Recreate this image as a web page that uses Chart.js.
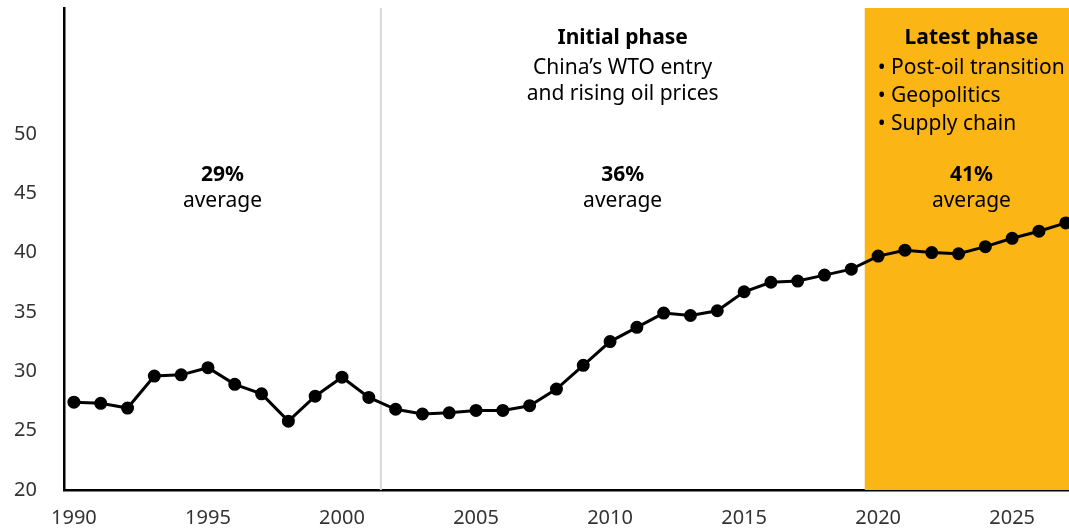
<!DOCTYPE html>
<html>
<head>
<meta charset="utf-8">
<script src="https://cdn.jsdelivr.net/npm/chart.js@4/dist/chart.umd.min.js"></script>
<style>
  html, body { margin: 0; padding: 0; background: #fff; }
  #wrap { width: 1069px; height: 529px; }
</style>
</head>
<body>
<div id="wrap"><canvas id="chart"></canvas></div>
<script>
const years = [1990, 1991, 1992, 1993, 1994, 1995, 1996, 1997, 1998, 1999,
  2000, 2001, 2002, 2003, 2004, 2005, 2006, 2007, 2008, 2009,
  2010, 2011, 2012, 2013, 2014, 2015, 2016, 2017, 2018, 2019,
  2020, 2021, 2022, 2023, 2024, 2025, 2026, 2027];
const share = [27.4, 27.3, 26.9, 29.6, 29.7, 30.3, 28.9, 28.1, 25.8, 27.9,
  29.5, 27.8, 26.8, 26.4, 26.5, 26.7, 26.7, 27.1, 28.5, 30.5,
  32.5, 33.7, 34.9, 34.7, 35.1, 36.7, 37.5, 37.6, 38.1, 38.6,
  39.7, 40.2, 40.0, 39.9, 40.5, 41.2, 41.8, 42.5];

// phase boundaries (years)
const wtoLine = 2001.45;
const latestStart = 2019.5;

// annotation text
const phaseAverages = [
  { x: 1995.54, pct: '29%' },
  { x: 2010.47, pct: '36%' },
  { x: 2023.48, pct: '41%' }
];
const initialTitle = 'Initial phase';
const initialLines = ['China\u2019s WTO entry', 'and rising oil prices'];
const latestTitle = 'Latest phase';
const latestLines = ['Post-oil transition', 'Geopolitics', 'Supply chain'];

const FONT = '"Noto Sans", "Open Sans", sans-serif';

// band + divider behind the line, texts on top
const backgroundPlugin = {
  id: 'phases',
  beforeDatasetsDraw(chart) {
    const { ctx, chartArea, scales } = chart;
    const x = scales.x;
    ctx.save();
    ctx.fillStyle = '#FBB615';
    const bx = x.getPixelForValue(latestStart);
    ctx.fillRect(bx, chartArea.top, chartArea.right - bx, chartArea.bottom - chartArea.top);
    ctx.strokeStyle = '#d9d9d9';
    ctx.lineWidth = 2;
    const lx = x.getPixelForValue(wtoLine);
    ctx.beginPath();
    ctx.moveTo(lx, chartArea.top);
    ctx.lineTo(lx, chartArea.bottom);
    ctx.stroke();
    ctx.restore();
  },
  afterDraw(chart) {
    const { ctx, chartArea, scales } = chart;
    const x = scales.x;
    const top = chartArea.top;
    ctx.save();
    ctx.fillStyle = '#000';
    ctx.textAlign = 'center';
    ctx.textBaseline = 'middle';

    phaseAverages.forEach(p => {
      const px = x.getPixelForValue(p.x);
      ctx.font = 'bold 21px ' + FONT;
      ctx.fillText(p.pct, px, top + 167);
      ctx.font = '21px ' + FONT;
      ctx.fillText('average', px, top + 193);
    });

    const ix = x.getPixelForValue(2010.47);
    ctx.font = 'bold 21px ' + FONT;
    ctx.fillText(initialTitle, ix, top + 30);
    ctx.font = '21px ' + FONT;
    initialLines.forEach((t, i) => ctx.fillText(t, ix, top + 60 + i * 26));

    const lx = x.getPixelForValue(2023.48);
    ctx.font = 'bold 21px ' + FONT;
    ctx.fillText(latestTitle, lx, top + 30);
    ctx.font = '21px ' + FONT;
    ctx.textAlign = 'left';
    const bx = x.getPixelForValue(latestStart) + 13;
    latestLines.forEach((t, i) => ctx.fillText('\u2022 ' + t, bx, top + 60 + i * 28));
    ctx.restore();
  }
};

new Chart(document.getElementById('chart'), {
  type: 'line',
  data: {
    datasets: [{
      data: years.map((y, i) => ({ x: y, y: share[i] })),
      borderColor: '#000',
      backgroundColor: '#000',
      borderWidth: 3,
      pointRadius: 5,
      pointHoverRadius: 5,
      tension: 0,
      clip: false
    }]
  },
  options: {
    responsive: true,
    maintainAspectRatio: false,
    animation: false,
    layout: { autoPadding: false, padding: { top: 8, right: 0, left: 0, bottom: 0 } },
    plugins: { legend: { display: false }, tooltip: { enabled: false } },
    scales: {
      x: {
        type: 'linear',
        min: 1989.63,
        max: 2027.12,
        grid: { display: false, drawTicks: false },
        border: { color: '#000', width: 2.5 },
        ticks: {
          stepSize: 5,
          includeBounds: false,
          padding: 16,
          color: '#333',
          font: { family: FONT, size: 20 },
          maxRotation: 0,
          callback: v => String(v)
        },
        afterFit: s => { s.height = 39; }
      },
      y: {
        min: 20,
        max: 60.6,
        grid: { display: false, drawTicks: false },
        border: { color: '#000', width: 2.5 },
        ticks: {
          stepSize: 5,
          includeBounds: false,
          padding: 27,
          color: '#333',
          font: { family: FONT, size: 20 },
          callback: v => (v <= 50 ? String(v) : null)
        },
        afterFit: s => { s.width = 64; s.paddingTop = 0; s.paddingBottom = 0; }
      }
    }
  },
  plugins: [backgroundPlugin]
});
</script>
</body>
</html>
